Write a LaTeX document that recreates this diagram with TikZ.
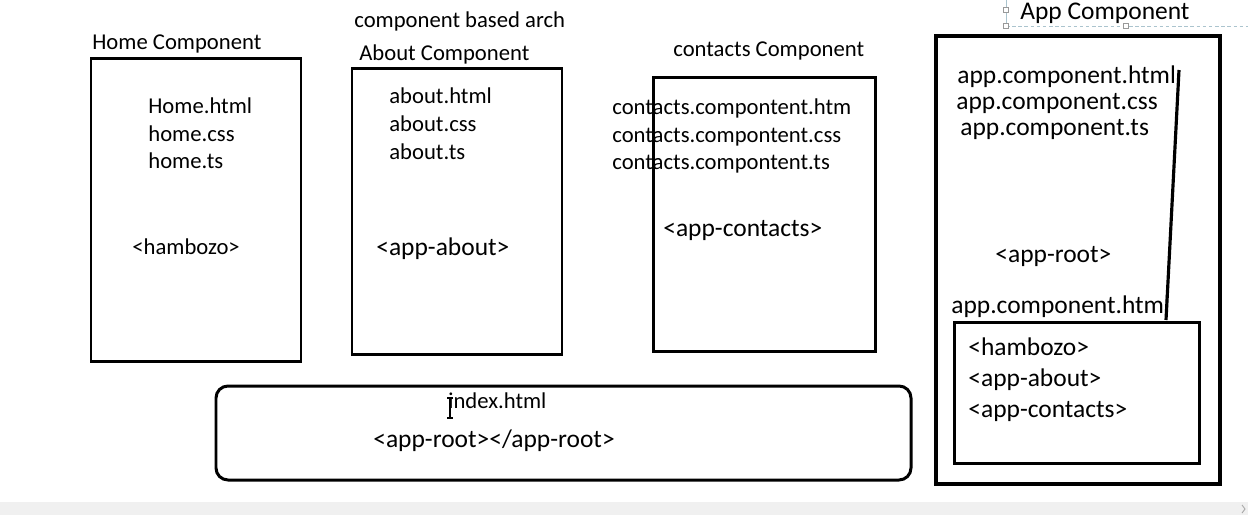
\documentclass[tikz,border=0pt]{standalone}
\usepackage{fontspec}
\setmainfont{Carlito}
\begin{document}
\begin{tikzpicture}[x=0.02cm,y=-0.02cm,
  box/.style={draw=black,line width=1.7pt},
  small/.style={font=\fontsize{12.9pt}{15pt}\selectfont,inner sep=0pt,anchor=base west},
  big/.style={font=\fontsize{14.5pt}{17pt}\selectfont,inner sep=0pt,anchor=base west},
  selframe/.style={draw=gray!70!cyan!60,line width=0.5pt},
  handle/.style={draw=gray!80,fill=white,line width=0.4pt,minimum size=3pt,inner sep=0pt}]
\useasboundingbox (0,0) rectangle (1248,515);
% status strip along the bottom
\fill[black!6] (0,502) rectangle (1248,515);
\draw[black!35,line width=0.5pt] (1242,505) -- (1245,509) -- (1242,513);

% component boxes
\draw[box] (91,58) rectangle (301,361);
\draw[box] (352,68) rectangle (562,354);
\draw[box] (653,77) rectangle (875,351);
\draw[box,line width=2pt] (936,36) rectangle (1220,484);
\draw[box] (954,322) rectangle (1199,463);
\draw[box,rounded corners=0.24cm] (216,386) rectangle (911,480);

% headings
\node[small] (arch) at (354,27) {component based arch};
\node[small] (homeT) at (92,49) {Home Component};
\node[small] (aboutT) at (359,60) {About Component};
\node[small] (contT) at (673,56) {contacts Component};
\node[big] (appT) at (1020,19) {App Component};

% text-box selection frame round the App heading
\draw[selframe] (1006,0) -- (1006,26);
\draw[selframe,dashed,dash pattern=on 2pt off 1.5pt] (1006,26) -- (1248,26);
\node[handle] (h1) at (1006,10) {};
\node[handle] (h2) at (1006,26) {};
\node[handle] (h3) at (1126,26) {};

% Home component
\node[small] (h_html) at (148,113) {Home.html};
\node[small] (h_css) at (148,141) {home.css};
\node[small] (h_ts) at (148,168) {home.ts};
\node[small] (h_tag) at (132,254) {<hambozo>};

% About component
\node[small] (a_html) at (389,103) {about.html};
\node[small] (a_css) at (389,131) {about.css};
\node[small] (a_ts) at (389,159) {about.ts};
\node[big] (a_tag) at (376,255) {<app-about>};

% Contacts component
\node[small] (c_html) at (612,114) {contacts.compontent.htm};
\node[small] (c_css) at (612,142) {contacts.compontent.css};
\node[small] (c_ts) at (612,169) {contacts.compontent.ts};
\node[big] (c_tag) at (663,236) {<app-contacts>};

% App component
\node[big] (p_html) at (957,83) {app.component.html};
\node[big] (p_css) at (956,109) {app.component.css};
\node[big] (p_ts) at (960,135) {app.component.ts};
\node[big] (p_tag) at (995,262) {<app-root>};
\node[big] (p_tpl) at (951,313) {app.component.html};
\node[big] (t1) at (968,355) {<hambozo>};
\node[big] (t2) at (968,386) {<app-about>};
\node[big] (t3) at (968,417) {<app-contacts>};
\coordinate (lnTop) at (1179,70);
\coordinate (lnBot) at (1166,320);
\draw[line width=1.8pt] (lnTop) -- (lnBot);

% index.html
\node[small] (idx) at (448,408) {index.html};
\node[big] (root) at (373,447) {<app-root></app-root>};
% text cursor
\draw[line width=0.6pt] (450,398) -- (450,418) (447,398) -- (453,398) (447,418) -- (453,418);
\end{tikzpicture}
\end{document}
